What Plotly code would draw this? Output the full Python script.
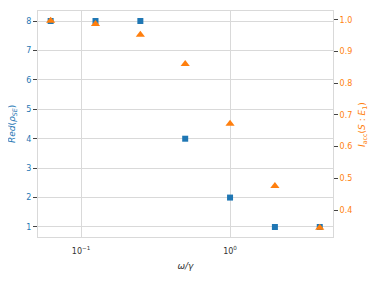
import plotly.graph_objects as go

omega = [0.0625, 0.125, 0.25, 0.5, 1, 2, 4]
red = [8, 8, 8, 4, 2, 1, 1]
iacc = [0.997, 0.987, 0.953, 0.861, 0.672, 0.476, 0.344]
xtick_vals = [0.1, 1]
xtick_text = ["10<sup>−1</sup>", "10<sup>0</sup>"]
ltick_vals = [1, 2, 3, 4, 5, 6, 7, 8]
rtick_vals = [0.4, 0.5, 0.6, 0.7, 0.8, 0.9, 1.0]
rtick_text = ["0.4", "0.5", "0.6", "0.7", "0.8", "0.9", "1.0"]

blue = "#1f77b4"
orange = "#ff7f0e"

fig = go.Figure()
fig.add_trace(go.Scatter(x=omega, y=red, mode="markers",
                         marker=dict(symbol="square", size=6, color=blue),
                         yaxis="y", showlegend=False))
fig.add_trace(go.Scatter(x=omega, y=iacc, mode="markers",
                         marker=dict(symbol="triangle-up", size=8, color=orange),
                         yaxis="y2", showlegend=False))

fig.update_layout(
    width=370, height=276,
    margin=dict(l=30, r=45, t=3, b=47, autoexpand=False),
    paper_bgcolor="white", plot_bgcolor="white",
    font=dict(family="DejaVu Sans", size=8),
    xaxis=dict(type="log", range=[-1.289, 0.691], tickvals=xtick_vals, ticktext=xtick_text,
               showgrid=True, gridcolor="#d9d9d9", gridwidth=1,
               showline=True, linecolor="#d9d9d9", linewidth=1, mirror=True,
               ticks="", zeroline=False, tickfont=dict(size=8, color="#333"),
               ticklabelstandoff=6, automargin=False,
               title=dict(text="<i>ω/γ</i>", font=dict(size=9, color="#333"), standoff=8)),
    yaxis=dict(range=[0.66, 8.34], tickvals=ltick_vals,
               showgrid=True, gridcolor="#d9d9d9", gridwidth=1,
               showline=True, linecolor="#d9d9d9", linewidth=1,
               ticks="outside", ticklen=4, tickcolor="#444", tickwidth=1,
               zeroline=False, tickfont=dict(size=8, color=blue), automargin=False),
    yaxis2=dict(range=[0.315, 1.028], tickvals=rtick_vals, ticktext=rtick_text,
                overlaying="y", side="right", showgrid=False,
                showline=True, linecolor="#d9d9d9", linewidth=1,
                ticks="outside", ticklen=4, tickcolor="#444", tickwidth=1,
                zeroline=False, tickfont=dict(size=8, color=orange), automargin=False),
    annotations=[
        dict(text="<i>Red</i>(<i>ρ</i><sub><i>SE</i></sub>)", xref="paper", yref="paper",
             x=-0.088, y=0.5, xanchor="center", yanchor="middle", textangle=-90,
             showarrow=False, font=dict(size=9, color=blue)),
        dict(text="<i>I</i><sub>acc</sub>(<i>S</i> : <i>E</i><sub>1</sub>)", xref="paper", yref="paper",
             x=1.098, y=0.5, xanchor="center", yanchor="middle", textangle=-90,
             showarrow=False, font=dict(size=9, color=orange)),
    ],
)

fig.write_html("out.html")
